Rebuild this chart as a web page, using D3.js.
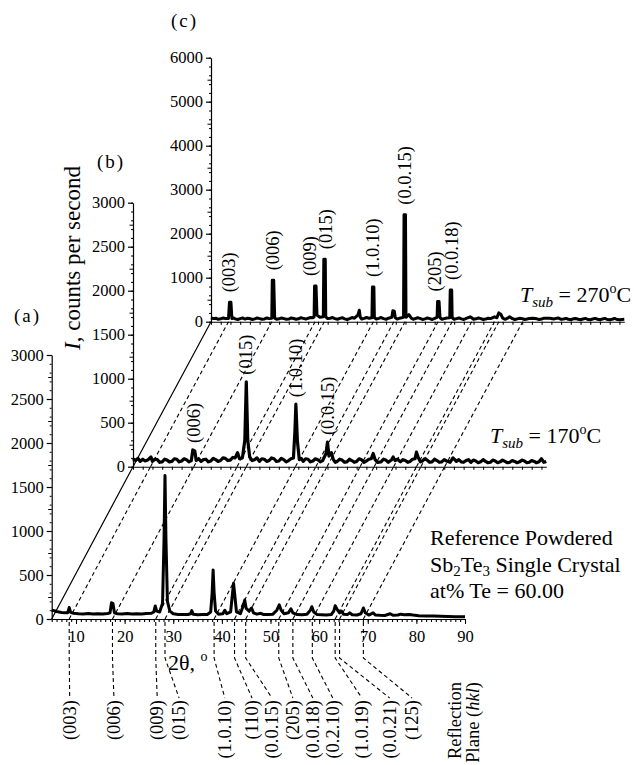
<!DOCTYPE html>
<html><head><meta charset="utf-8">
<script src="https://cdn.jsdelivr.net/npm/d3@7"></script>
<style>
body{margin:0;background:#fff}
svg text{font-family:"Liberation Serif","Times New Roman",serif;fill:#000}
</style>
</head><body>
<svg id="chart" width="634" height="765"></svg>
<script>
// ---------- DATA ----------
// Reflection planes (hkl) of Sb2Te3 and their 2θ positions (degrees)
const reflLabels = ["(003)","(006)","(009)","(015)","(1.0.10)","(110)","(0.0.15)","(205)","(0.0.18)","(0.2.10)","(1.0.19)","(0.0.21)","(125)"];
const reflTheta  = [8.6,17.5,26.4,28.3,38.4,42.6,44.9,51.7,54.6,58.6,63.3,64.2,69.1];
const reflLabelTheta = [8.7,17.8,26.7,31.2,40.6,46.2,50.3,54.6,58.7,62.8,68.8,74.5,79.1];

// x-axis tick labels (2θ)
const xTicks = [10,20,30,40,50,60,70,80,90];
// y-axis tick labels
const yTicksAB = [0,500,1000,1500,2000,2500,3000];
const yTicksC  = [0,1000,2000,3000,4000,5000,6000];

// (a) Reference powdered Sb2Te3 single crystal: [2θ, counts/s]
const patternA = [[5,100],[5.5,95],[6,85],[7,75],[7.8,70],[8.3,72],[8.6,130],[8.9,75],[9.5,65],[10.5,60],[11.5,58],[12.5,62],[13.5,57],[14.5,60],[15.5,58],[16.5,62],[17.0,70],[17.3,185],[17.6,175],[17.9,70],[18.5,60],[19.5,58],[20.5,62],[21.5,57],[22.5,60],[23.5,58],[24.5,62],[25.5,65],[26.0,80],[26.3,148],[26.6,90],[27.2,80],[27.8,180],[28.1,900],[28.3,1630],[28.5,900],[28.8,200],[29.3,90],[30,60],[31,52],[32,50],[33,52],[33.6,60],[33.8,95],[34.1,55],[35,48],[36,50],[37,52],[37.7,80],[38.0,300],[38.2,557],[38.4,300],[38.7,90],[39.3,55],[40.2,60],[40.6,100],[41.0,60],[41.8,80],[42.2,300],[42.4,405],[42.6,300],[43,80],[43.8,60],[44.4,150],[44.7,216],[45.0,120],[45.6,90],[46.1,125],[46.5,70],[47.2,55],[48,65],[48.5,52],[49.5,50],[50.5,55],[51.3,100],[51.8,160],[52.2,100],[52.8,60],[53.7,70],[54.2,115],[54.6,70],[55.5,50],[56.5,48],[57.5,55],[58.2,100],[58.5,140],[58.9,80],[59.6,50],[60.5,48],[61.5,45],[62.5,50],[63.0,90],[63.3,150],[63.7,110],[64.2,70],[64.6,90],[65.0,55],[65.8,50],[66.3,70],[66.8,48],[67.8,45],[68.6,60],[69.1,125],[69.5,70],[70.2,45],[71.1,70],[71.6,45],[72.5,42],[73.5,40],[74.6,60],[75.2,42],[76.2,45],[76.8,55],[77.5,48],[78.5,52],[79.3,45],[80.5,38],[82,35],[83.5,33],[85,30],[86.5,28],[88,26],[90,25]];

// (b) T_sub = 170 °C
const patternB = [[5,90],[5.5,70],[6,95],[6.5,60],[7,85],[7.5,65],[8,75],[8.7,110],[9,60],[9.5,85],[10,80],[10.5,50],[11,55],[11.5,85],[12,75],[12.5,55],[13,60],[13.5,90],[14,85],[14.5,55],[15,65],[15.5,90],[16,80],[16.5,55],[17,70],[17.3,190],[17.7,180],[18,70],[18.5,90],[19,60],[19.5,80],[20,85],[20.5,55],[21,65],[21.5,95],[22,80],[22.5,60],[23,70],[23.5,100],[24,95],[24.5,70],[25,75],[25.5,105],[26,100],[26.5,160],[26.9,90],[27.5,100],[28.0,300],[28.3,965],[28.6,300],[29,110],[29.5,70],[30,80],[30.5,100],[31,60],[31.5,90],[32,85],[32.5,60],[33,70],[33.5,100],[34,90],[34.5,60],[35,65],[35.5,95],[36,80],[36.5,55],[37,70],[37.5,90],[38.0,100],[38.3,400],[38.5,710],[38.8,300],[39.2,80],[39.6,95],[40,60],[40.5,90],[41,85],[41.5,55],[42,65],[42.5,90],[43,80],[43.5,55],[44,70],[44.7,150],[45.0,280],[45.3,120],[45.8,160],[46.2,80],[46.6,50],[47,60],[47.5,85],[48,75],[48.5,50],[49,55],[49.5,85],[50,70],[50.5,50],[51,60],[51.5,90],[52,80],[52.5,50],[53,65],[53.5,85],[54.0,90],[54.4,150],[54.8,80],[55.3,50],[56,55],[56.5,85],[57,75],[57.5,50],[58.2,80],[58.5,110],[58.9,70],[59.4,85],[60,55],[60.5,80],[61,70],[61.5,50],[62,60],[62.5,85],[63.0,90],[63.3,165],[63.7,100],[64.1,55],[64.5,65],[65,90],[65.5,75],[66,50],[66.5,55],[67,85],[67.5,70],[68,50],[68.5,55],[69,80],[69.5,65],[70.2,50],[70.8,100],[71.5,60],[72,80],[72.5,55],[73,50],[73.5,70],[74,80],[74.5,50],[75,75],[75.5,65],[76,45],[76.5,55],[77,80],[77.5,60],[78,45],[78.5,50],[79,75],[79.5,65],[80,45],[80.5,55],[81,75],[81.5,60],[82,45],[82.5,50],[83,70],[83.5,60],[84,45],[84.5,55],[85,75],[85.5,65],[86,45],[86.5,50],[87,70],[87.5,60],[88,45],[88.5,55],[89,90],[89.5,50],[90,60]];

// (c) T_sub = 270 °C
const patternC = [[5,90],[5.5,70],[6,80],[6.5,55],[7,65],[7.5,85],[8,70],[8.6,75],[8.8,440],[9.1,440],[9.3,70],[9.6,85],[10,65],[10.5,50],[11,70],[11.5,85],[12,60],[12.5,80],[13,72],[13.5,50],[14,65],[14.5,85],[15,70],[15.5,55],[16,62],[16.5,85],[17,70],[17.5,80],[17.6,940],[17.9,940],[18.1,80],[18.5,55],[19,65],[19.5,85],[20,70],[20.5,55],[21,60],[21.5,85],[22,72],[22.5,55],[23,65],[23.5,90],[24,75],[24.5,60],[25,80],[25.5,95],[26,90],[26.2,110],[26.3,810],[26.6,810],[26.8,150],[27.4,100],[28.1,110],[28.2,1420],[28.5,1420],[28.6,110],[29,70],[29.5,80],[30,95],[30.5,70],[31,55],[31.5,75],[32,90],[32.5,65],[33,50],[33.5,70],[34,95],[34.5,80],[35.2,150],[35.5,260],[35.7,100],[36,60],[36.5,75],[37,95],[37.5,80],[38.1,90],[38.2,790],[38.5,790],[38.6,90],[39,60],[39.5,75],[40,95],[40.5,70],[41,55],[41.5,80],[42.2,100],[42.4,250],[42.7,240],[42.9,90],[43.3,60],[43.8,80],[44.6,100],[44.7,2430],[45.0,2430],[45.1,100],[45.7,160],[46.2,80],[46.6,55],[47,70],[47.5,90],[48,75],[48.5,50],[49,65],[49.5,85],[50,70],[50.5,50],[51,75],[51.5,100],[51.6,460],[51.9,460],[52.1,90],[52.5,55],[53,70],[53.5,85],[54.1,90],[54.2,720],[54.5,720],[54.6,90],[55,55],[55.5,70],[56,85],[56.5,65],[57,50],[57.5,75],[58.3,110],[58.6,90],[59,55],[59.5,65],[60,85],[60.5,70],[61,50],[61.5,60],[62,80],[62.5,70],[63.3,110],[63.8,90],[64.2,200],[64.6,170],[65,80],[65.5,55],[66,80],[66.4,110],[67,70],[67.5,50],[68,65],[68.5,80],[69,70],[69.5,50],[70,60],[70.5,75],[71.2,80],[72,65],[72.5,50],[73,60],[73.5,80],[74.7,80],[75.5,60],[76,75],[76.4,85],[77,55],[77.5,60],[78,75],[78.5,55],[79,45],[79.5,65],[80,75],[80.5,55],[81,45],[81.5,60],[82,75],[82.5,50],[83,45],[83.5,60],[84,75],[84.5,55],[85,45],[85.5,60],[86,75],[86.5,50],[87,45],[87.5,55],[88,75],[88.5,50],[89,45],[90,55]];

// peak labels of panel (b)
const bLabels = ["(006)","(015)","(1.0.10)","(0.0.15)"];
const bLabelTheta = [17.5,28.3,38.5,45.0];
const bLabelI = [190,965,710,280];

// peak labels of panel (c)
const cLabels = ["(003)","(006)","(009)","(015)","(1.0.10)","(0.0.15)","(205)","(0.0.18)"];
const cLabelTheta = [8.9,17.7,26.4,28.3,38.3,44.8,51.7,54.3];
const cLabelI = [440,940,810,1420,790,2430,460,720];

// ---------- LAYOUT ----------
const svg = d3.select("#chart");
const PW = 413.3, PH = 264;
const panels = [
  {data:patternA, ox:51.7, oy:619,   ymax:3000, ticks:yTicksAB, sw:3.0},
  {data:patternB, ox:133,  oy:466.7, ymax:3000, ticks:yTicksAB, sw:3.2},
  {data:patternC, ox:211,  oy:321.7, ymax:6000, ticks:yTicksC,  sw:3.0}
];
panels.forEach(p=>{
  p.x = d3.scaleLinear().domain([5,90]).range([p.ox, p.ox+PW]);
  p.y = d3.scaleLinear().domain([0,p.ymax]).range([p.oy, p.oy-PH]);
});
const [A,B,C] = panels;
const FONT = '"Liberation Serif", "Times New Roman", serif';
function serif(g, size){
  g.attr("font-family",null).attr("font-size",null);
  g.selectAll("text").style("font-family",FONT).style("font-size",size+"px").attr("fill","#000");
}

// solid slanted lines linking the origins
svg.append("path").attr("d",`M${A.ox},${A.oy}L${B.ox},${B.oy}L${C.ox},${C.oy}`)
  .attr("fill","none").attr("stroke","#000").attr("stroke-width",1.2);

// dashed connector lines between panels
const conn = svg.append("g").attr("fill","none").attr("stroke","#000").attr("stroke-width",1.1).attr("stroke-dasharray","4,3");
reflTheta.forEach(t=>{
  conn.append("path").attr("d",`M${A.x(t)},${A.oy}L${B.x(t)},${B.oy}`);
  conn.append("path").attr("d",`M${B.x(t)},${B.oy}L${C.x(t)},${C.oy}`);
});

// leader lines from (a) axis down to reflection labels
const bendY = 658, labY = 698;
reflTheta.forEach((t,i)=>{
  const x0 = A.x(t), x1 = A.x(reflLabelTheta[i]);
  conn.append("path").attr("d",`M${x0},${A.oy+3}L${x0},${bendY}L${x1},${labY}`);
});

// axes
panels.forEach((p,pi)=>{
  const step = p.ticks[1]-p.ticks[0];
  const gm = svg.append("g").attr("transform",`translate(${p.ox},0)`)
    .call(d3.axisLeft(p.y).tickValues(d3.range(0,p.ymax+1,step/5)).tickSize(2).tickSizeOuter(0).tickFormat(""));
  gm.select(".domain").remove();
  const gh = svg.append("g").attr("transform",`translate(${p.ox},0)`)
    .call(d3.axisLeft(p.y).tickValues(d3.range(step/2,p.ymax,step)).tickSize(3.5).tickSizeOuter(0).tickFormat(""));
  gh.select(".domain").remove();
  const gy = svg.append("g").attr("transform",`translate(${p.ox},0)`)
    .call(d3.axisLeft(p.y).tickValues(p.ticks).tickSize(5).tickPadding(3).tickSizeOuter(0).tickFormat(d3.format("d")));
  serif(gy,16.5);
  gy.selectAll("path,line").attr("stroke-width",1.2);
  const gxm = svg.append("g").attr("transform",`translate(0,${p.oy})`)
    .call(d3.axisBottom(p.x).tickValues(d3.range(5,91,pi===0?1:2)).tickSize(3).tickSizeOuter(0).tickFormat(""));
  gxm.selectAll("path,line").attr("stroke-width",1.1);
});
const gx = svg.append("g").attr("transform",`translate(0,${A.oy})`)
  .call(d3.axisBottom(A.x).tickValues(xTicks).tickSize(5).tickPadding(6).tickSizeOuter(0));
serif(gx,16.5);
gx.select(".domain").remove();

// curves
panels.forEach(p=>{
  svg.append("path").datum(p.data)
    .attr("d", d3.line().x(d=>p.x(d[0])).y(d=>p.y(d[1])))
    .attr("fill","none").attr("stroke","#000").attr("stroke-width",p.sw)
    .attr("stroke-linejoin","round");
});

// peak labels (rotated)
function peakLabels(p, labels, thetas, ints, gap, shifts){
  labels.forEach((l,i)=>{
    const x = p.x(thetas[i]) + (shifts?shifts[i]:0), y = p.y(ints[i]) - gap;
    svg.append("text").attr("transform",`translate(${x},${y}) rotate(-90)`)
      .attr("dy","0.33em").attr("font-size",18.5).attr("text-anchor","start").text(l);
  });
}
peakLabels(B, bLabels, bLabelTheta, bLabelI, 7, [0,0,0,0]);
peakLabels(C, cLabels, cLabelTheta, cLabelI, 10, [-1,0,-5,2,0,0,-3,1]);

// reflection labels under (a)
reflLabels.forEach((l,i)=>{
  const x = A.x(reflLabelTheta[i]);
  svg.append("text").attr("transform",`translate(${x},${labY+2}) rotate(-90)`)
    .attr("dy","0.33em").attr("font-size",18.5).attr("text-anchor","end").text(l);
});
const rp = svg.append("text").attr("transform",`translate(454.5,682) rotate(-90)`).attr("font-size",18.5).attr("text-anchor","end");
rp.append("tspan").attr("x",0).attr("dy","0.33em").text("Reflection");
const rp2 = svg.append("text").attr("transform",`translate(472.5,682) rotate(-90)`).attr("font-size",18.5).attr("text-anchor","end");
rp2.append("tspan").attr("dy","0.33em").text("Plane (");
rp2.append("tspan").attr("font-style","italic").text("hkl");
rp2.append("tspan").text(")");

// panel letters
[["(a)",14,322],["(b)",97,168],["(c)",171,27]].forEach(([t,x,y])=>{
  svg.append("text").attr("x",x).attr("y",y).attr("font-size",19).attr("letter-spacing",2).text(t);
});

// y-axis title
const yt = svg.append("text").attr("transform","translate(80,258) rotate(-90)").attr("font-size",23).attr("text-anchor","middle");
yt.append("tspan").attr("font-style","italic").text("I");
yt.append("tspan").text(", counts per second");

// x-axis title
const xt = svg.append("text").attr("x",168).attr("y",670).attr("font-size",22);
xt.append("tspan").text("2θ, ");
xt.append("tspan").attr("font-size",14).attr("dy",-9).text("o");

// Tsub labels
function tsub(x,y,val){
  const t = svg.append("text").attr("x",x).attr("y",y).attr("font-size",22);
  t.append("tspan").attr("font-style","italic").text("T");
  t.append("tspan").attr("font-style","italic").attr("font-size",15).attr("dy",5).text("sub");
  t.append("tspan").attr("dy",-5).text(" = "+val);
  t.append("tspan").attr("font-size",14).attr("dy",-9).text("o");
  t.append("tspan").attr("dy",9).text("C");
}
tsub(520,302,"270");
tsub(490,443,"170");

// reference text
svg.append("text").attr("x",430).attr("y",545).attr("font-size",22).text("Reference Powdered");
const r2 = svg.append("text").attr("x",430).attr("y",572).attr("font-size",22);
r2.append("tspan").text("Sb");
r2.append("tspan").attr("font-size",15).attr("dy",4).text("2");
r2.append("tspan").attr("dy",-4).text("Te");
r2.append("tspan").attr("font-size",15).attr("dy",4).text("3");
r2.append("tspan").attr("dy",-4).text(" Single Crystal");
svg.append("text").attr("x",430).attr("y",598).attr("font-size",22).text("at% Te = 60.00");
</script>
</body></html>
